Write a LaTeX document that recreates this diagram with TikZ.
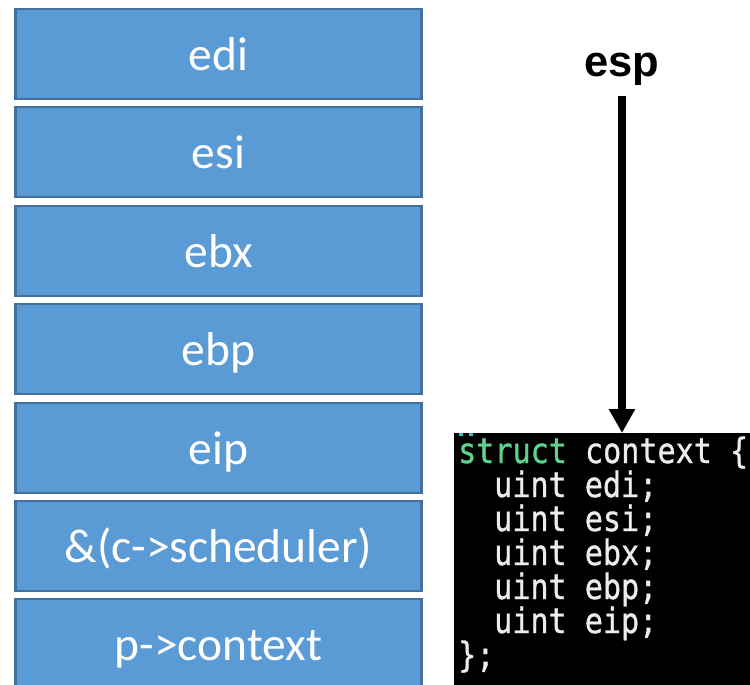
\documentclass[tikz,border=0pt]{standalone}
\usepackage{fontspec}
\setmainfont{Carlito}
\newfontfamily\codefont[FakeStretch=0.86,FakeBold=0.9]{DejaVu Sans Mono}
\newfontfamily\headfont{Liberation Sans}
\usetikzlibrary{arrows.meta}

\definecolor{slotfill}{HTML}{5B9BD5}
\definecolor{slotedge}{HTML}{41719C}
\definecolor{kwgreen}{HTML}{5FD38D}
\definecolor{codetxt}{HTML}{ECECEC}
\definecolor{codecyan}{HTML}{3FB8C8}

\tikzset{
  slot/.style={draw=slotedge, line width=2.5pt, fill=slotfill, text=white,
    minimum width=406pt, minimum height=90pt, inner sep=0pt,
    text height=33pt, text depth=0pt,
    font=\fontsize{47.5}{47.5}\selectfont},
  codeline/.style={anchor=base west, inner sep=0pt, text=codetxt,
    font=\codefont\fontsize{35}{35}\selectfont},
  pointer/.style={line width=8pt, -{Triangle[width=25pt,length=24pt]}}
}

\begin{document}
\begin{tikzpicture}[x=1pt,y=-1pt]
  \clip (0,0) rectangle (750,685);
  \fill[white] (0,0) rectangle (750,685);

  % stack slots, top to bottom
  \node[slot] (s1) at (218.5, 54)  {edi};
  \node[slot] (s2) at (218.5, 152) {esi};
  \node[slot] (s3) at (218.5, 251) {ebx};
  \node[slot] (s4) at (218.5, 349) {ebp};
  \node[slot] (s5) at (218.5, 448) {eip};
  \node[slot] (s6) at (218.5, 546) {\&(c->scheduler)};
  \node[slot] (s7) at (218.5, 644) {p->context};

  % code excerpt
  \node[fill=black, anchor=north west, minimum width=300pt, minimum height=260pt,
        inner sep=0pt] (code) at (454,433) {};
  \fill[codecyan] (459,433) rectangle (463,436) (469,433) rectangle (473,436);
  \node[codeline] (l0) at (458,463) {\textcolor{kwgreen}{struct} context \{};
  \node[codeline] (l1) at (494,497) {uint edi;};
  \node[codeline] (l2) at (494,531) {uint esi;};
  \node[codeline] (l3) at (494,565) {uint ebx;};
  \node[codeline] (l4) at (494,599) {uint ebp;};
  \node[codeline] (l5) at (494,633) {uint eip;};
  \node[codeline] (l6) at (458,667) {\};};

  % stack pointer
  \node[anchor=base, inner sep=0pt, font=\headfont\bfseries\fontsize{43.5}{43.5}\selectfont]
    (esp) at (622,77) {esp};
  \draw[pointer, shorten <=10pt] (esp) -- (esp |- code.north);
\end{tikzpicture}
\end{document}
